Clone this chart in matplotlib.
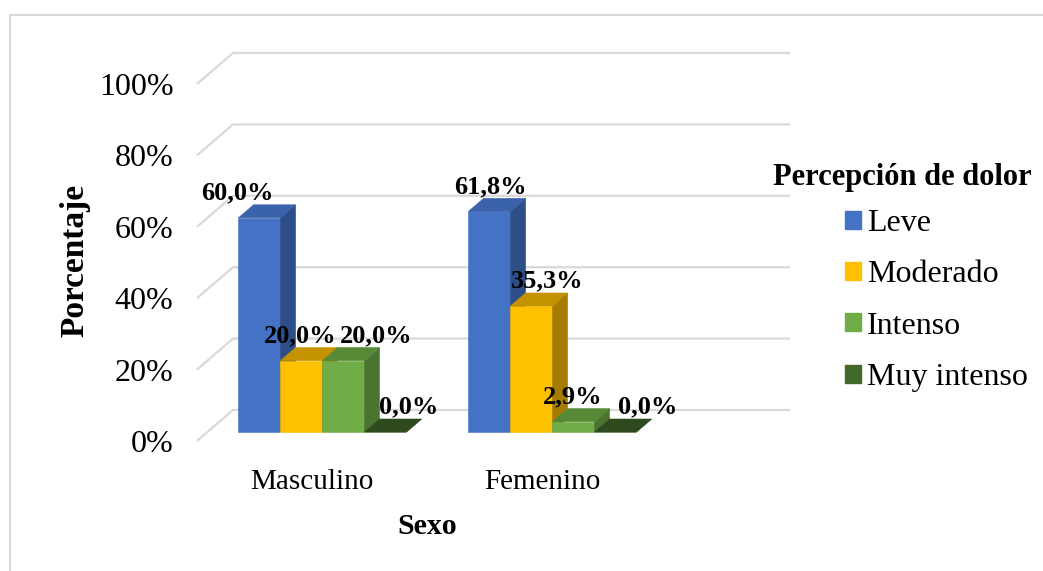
import matplotlib
matplotlib.use("Agg")
import matplotlib.pyplot as plt
from matplotlib.patches import Polygon, Patch
from matplotlib.lines import Line2D

plt.rcParams['font.family'] = ['Liberation Serif', 'DejaVu Serif']

# ---------- datos ----------
sexos = ["Masculino", "Femenino"]
niveles = ["Leve", "Moderado", "Intenso", "Muy intenso"]
leve = [60.0, 61.8]
moderado = [20.0, 35.3]
intenso = [20.0, 2.9]
muy_intenso = [0.0, 0.0]
ticks = [0, 20, 40, 60, 80, 100]

series = [leve, moderado, intenso, muy_intenso]

# colores: frente, tapa, lateral
col_frente = ["#4472C4", "#FFC000", "#70AD47", "#43682B"]
col_tapa = ["#3B63AC", "#C59300", "#568A37", "#2E4A1E"]
col_lado = ["#2D4E87", "#A67C00", "#4A7530", "#2A431B"]

# desplazamientos en etiquetas (puntos), uno por barra
ajuste_x = [[-21, -6, 18, 11], [-5, 6, -6, 18]]

# ---------- perspectiva oblicua ----------
DX, DY = 0.1565, 8.68      # profundidad completa (unidades x, %)
d0, d1 = 0.29, 0.71        # frente y fondo de las barras
ancho = 0.1826

fig = plt.figure(figsize=(10.43, 5.71), dpi=100)
ax = fig.add_axes([197 / 1043, 130 / 571, 690 / 1043, 357 / 571])
ax.set_xlim(-0.5, 2.5)
ax.set_ylim(0, 100)
for s in ax.spines.values():
    s.set_visible(False)

# marco del gráfico
fig.add_artist(Line2D([10 / 1043, 10 / 1043], [0, 1 - 15 / 571], transform=fig.transFigure,
                      color="#D9D9D9", lw=1.5))
fig.add_artist(Line2D([10 / 1043, 1], [1 - 15 / 571, 1 - 15 / 571], transform=fig.transFigure,
                      color="#D9D9D9", lw=1.5))

# líneas de división (pared lateral + pared del fondo)
x_ini = -0.5
x_fin = 2.078
for t in ticks:
    ax.plot([x_ini, x_ini + DX, x_fin], [t, t + DY, t + DY], color="#D9D9D9",
            lw=1.6, clip_on=False, zorder=1, solid_capstyle="butt")

ax.set_yticks(ticks)
ax.set_yticklabels([f"{t}%" for t in ticks], fontsize=23)
ax.set_xticks(range(len(sexos)))
ax.set_xticklabels(sexos, fontsize=21)
ax.tick_params(axis="y", length=0, pad=17)
ax.tick_params(axis="x", length=0, pad=20)

# ---------- barras 3D ----------
ox0, oy0 = d0 * DX, d0 * DY
ox1, oy1 = d1 * DX, d1 * DY
z = 3
for i in range(len(sexos)):
    for j, serie in enumerate(series):
        v = serie[i]
        xl = i + (j - 2) * ancho
        xr = xl + ancho
        caras = [
            ([(xl + ox0, oy0), (xr + ox0, oy0), (xr + ox0, v + oy0), (xl + ox0, v + oy0)], col_frente[j]),
            ([(xr + ox0, oy0), (xr + ox1, oy1), (xr + ox1, v + oy1), (xr + ox0, v + oy0)], col_lado[j]),
            ([(xl + ox0, v + oy0), (xr + ox0, v + oy0), (xr + ox1, v + oy1), (xl + ox1, v + oy1)], col_tapa[j]),
        ]
        for pts, c in caras:
            ax.add_patch(Polygon(pts, closed=True, facecolor=c, edgecolor=c, lw=0.4,
                                 zorder=z, clip_on=False))
        z += 1
        etiqueta = f"{v:.1f}".replace(".", ",") + "%"
        ax.annotate(etiqueta, (xl + ancho / 2 + (ox0 + ox1) / 2, v + oy1),
                    xytext=(ajuste_x[i][j], 4), textcoords="offset points",
                    ha="center", va="baseline", fontsize=19, fontweight="bold",
                    zorder=20, annotation_clip=False)

# títulos de ejes
ax.text(-0.177, 0.507, "Porcentaje", transform=ax.transAxes, rotation=90,
        ha="center", va="center", fontsize=24, fontweight="bold")
ax.text(0.333, -0.24, "Sexo", transform=ax.transAxes,
        ha="center", va="center", fontsize=21.5, fontweight="bold")

# leyenda
fig.text(773 / 1043, 1 - 177 / 571, "Percepción de dolor", ha="left", va="center",
         fontsize=22, fontweight="bold")
handles = [Patch(facecolor=c, edgecolor=c) for c in col_frente]
fig.legend(handles, niveles, loc="upper left", bbox_to_anchor=(845 / 1043, 1 - 209 / 571),
           frameon=False, fontsize=23, handlelength=0.5, handleheight=0.5,
           handletextpad=0.2, labelspacing=0.7, borderpad=0, borderaxespad=0)

fig.savefig("out.png", dpi=100)
